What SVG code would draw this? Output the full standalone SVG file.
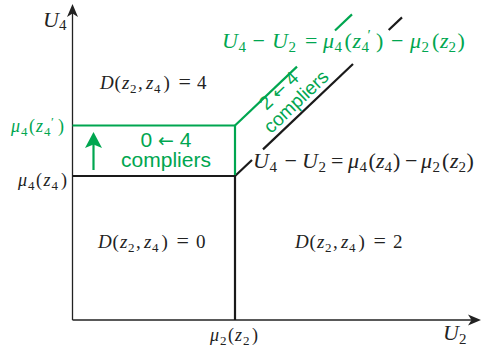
<svg xmlns="http://www.w3.org/2000/svg" width="481" height="348" viewBox="0 0 481 348">
<style>
.m{font-size:19px;fill:#222}
.i{font-style:italic}
.s{font-size:13px}
.eq{font-size:22px}
.f{font-size:22px}
.fs{font-size:15px}
.t{font-size:18px}
.ts{font-size:13px}
.sans{fill:#00a650;text-anchor:middle}
.g{fill:#00a650}
.ax{stroke:#222;stroke-width:1.3;fill:none}
.bk{stroke:#1a1a1a;stroke-width:2.2;fill:none}
.gr{stroke:#00a650;stroke-width:2.2;fill:none}
</style>
<rect width="481" height="348" fill="#fff"/>
<g id="axes">
<line class="ax" x1="72.5" y1="320" x2="72.5" y2="10"/>
<line class="ax" x1="72.5" y1="320" x2="476" y2="320"/>
<path d="M72.5,4 L78,17 L72.5,13.5 L67,17 Z" fill="#222"/>
<path d="M481,320 L468,314.5 L471.5,320 L468,325.5 Z" fill="#222"/>
</g>
<g id="connectors">
<line class="bk" x1="72.5" y1="176" x2="235" y2="176"/>
<line class="bk" x1="235" y1="175" x2="235" y2="320"/>
<line class="bk" x1="235" y1="176" x2="252" y2="160"/>
<line class="bk" x1="263" y1="149.4" x2="353" y2="64"/>
<line class="bk" x1="388.7" y1="30" x2="402" y2="17.4"/>
<line class="gr" x1="72.5" y1="125.5" x2="236" y2="125.5"/>
<line class="gr" x1="235" y1="125.5" x2="235" y2="175"/>
<line class="gr" x1="235" y1="125.5" x2="297" y2="66.6"/>
<line class="gr" x1="335" y1="30.5" x2="352" y2="14.4"/>
<line class="gr" x1="93.5" y1="170" x2="93.5" y2="143" stroke-width="3"/>
<path d="M93.5,132 L102,148 L93.5,144.5 L85,148 Z" class="g"/>
</g>
<g id="math" font-family="Liberation Serif, Times New Roman, serif">
<g id="axis-labels">
<text class="m" y="27"><tspan x="43" class="i" style="font-size:22px">U</tspan><tspan x="59" y="30" class="fs">4</tspan></text>
<text class="m" y="340"><tspan x="443" class="i" style="font-size:22px">U</tspan><tspan x="459" y="344" class="fs">2</tspan></text>
<text class="m t" y="341"><tspan x="210" class="i">μ</tspan><tspan x="220" y="345" class="ts">2</tspan><tspan x="228" y="341">(</tspan><tspan x="235" class="i">z</tspan><tspan x="243" y="345" class="ts">2</tspan><tspan x="252" y="341">)</tspan></text>
<text class="m t" y="186"><tspan x="18" class="i">μ</tspan><tspan x="28" y="190" class="ts">4</tspan><tspan x="36" y="186">(</tspan><tspan x="43.5" class="i">z</tspan><tspan x="51.5" y="190" class="ts">4</tspan><tspan x="61" y="186">)</tspan></text>
<text class="m t g" y="132"><tspan x="11" class="i">μ</tspan><tspan x="21" y="136" class="ts">4</tspan><tspan x="29" y="132">(</tspan><tspan x="36" class="i">z</tspan><tspan x="44" y="136" class="ts">4</tspan><tspan x="51" y="126" class="ts">′</tspan><tspan x="58" y="132">)</tspan></text>
</g>
<g id="region-4" transform="translate(100,89)">
<text class="m"><tspan x="0" class="i">D</tspan><tspan x="14.5">(</tspan><tspan x="22" class="i">z</tspan><tspan x="30" y="4" class="s">2</tspan><tspan x="38" y="0">,</tspan><tspan x="46" class="i">z</tspan><tspan x="54" y="4" class="s">4</tspan><tspan x="63.5" y="0">)</tspan><tspan x="78.5" class="eq">=</tspan><tspan x="97">4</tspan></text>
</g>
<g id="region-0" transform="translate(98,248)">
<text class="m"><tspan x="0" class="i">D</tspan><tspan x="14.5">(</tspan><tspan x="22" class="i">z</tspan><tspan x="30" y="4" class="s">2</tspan><tspan x="38" y="0">,</tspan><tspan x="46" class="i">z</tspan><tspan x="54" y="4" class="s">4</tspan><tspan x="63.5" y="0">)</tspan><tspan x="78.5" class="eq">=</tspan><tspan x="98">0</tspan></text>
</g>
<g id="region-2" transform="translate(295,248)">
<text class="m"><tspan x="0" class="i">D</tspan><tspan x="14.5">(</tspan><tspan x="22" class="i">z</tspan><tspan x="30" y="4" class="s">2</tspan><tspan x="38" y="0">,</tspan><tspan x="46" class="i">z</tspan><tspan x="54" y="4" class="s">4</tspan><tspan x="63.5" y="0">)</tspan><tspan x="78.5" class="eq">=</tspan><tspan x="98">2</tspan></text>
</g>
<g id="boundary-black-label">
<text class="m f" y="168"><tspan x="253" class="i">U</tspan><tspan x="269.5" y="172" class="fs">4</tspan><tspan x="284.5" y="168">−</tspan><tspan x="302" class="i">U</tspan><tspan x="318.5" y="172" class="fs">2</tspan><tspan x="331" y="168">=</tspan><tspan x="348" class="i">μ</tspan><tspan x="359.5" y="172" class="fs">4</tspan><tspan x="368.5" y="168">(</tspan><tspan x="376" class="i">z</tspan><tspan x="384.5" y="172" class="fs">4</tspan><tspan x="393" y="168">)</tspan><tspan x="405">−</tspan><tspan x="421" class="i">μ</tspan><tspan x="432.5" y="172" class="fs">2</tspan><tspan x="442" y="168">(</tspan><tspan x="450" class="i">z</tspan><tspan x="458.5" y="172" class="fs">2</tspan><tspan x="466.5" y="168">)</tspan></text>
</g>
<g id="boundary-green-label">
<text class="m f g" y="48"><tspan x="222" class="i">U</tspan><tspan x="238.5" y="52" class="fs">4</tspan><tspan x="252.5" y="48">−</tspan><tspan x="272" class="i">U</tspan><tspan x="288.5" y="52" class="fs">2</tspan><tspan x="305" y="48">=</tspan><tspan x="323" class="i">μ</tspan><tspan x="334.5" y="52" class="fs">4</tspan><tspan x="344.5" y="48">(</tspan><tspan x="352.5" class="i">z</tspan><tspan x="361.5" y="52" class="fs">4</tspan><tspan x="367.5" y="40" class="fs">′</tspan><tspan x="376" y="48">)</tspan><tspan x="391">−</tspan><tspan x="410" class="i">μ</tspan><tspan x="421.5" y="52" class="fs">2</tspan><tspan x="432" y="48">(</tspan><tspan x="440" class="i">z</tspan><tspan x="448.5" y="52" class="fs">2</tspan><tspan x="457.5" y="48">)</tspan></text>
</g>
</g>
<g id="labels-sans" font-family="Liberation Sans, Arial, sans-serif">
<g id="compliers-0-4">
<text class="sans" x="166" y="147" font-size="21">0 <tspan font-family="DejaVu Sans, sans-serif" font-size="19">←</tspan> 4</text>
<text class="sans" x="166" y="167" font-size="21">compliers</text>
</g>
<g id="compliers-2-4" transform="translate(235,150.5) rotate(-43.5)">
<text class="sans" x="73" y="-7" font-size="19">2 <tspan font-family="DejaVu Sans, sans-serif" font-size="17">←</tspan> 4</text>
<text class="sans" x="78" y="13" font-size="19">compliers</text>
</g>
</g>
</svg>
